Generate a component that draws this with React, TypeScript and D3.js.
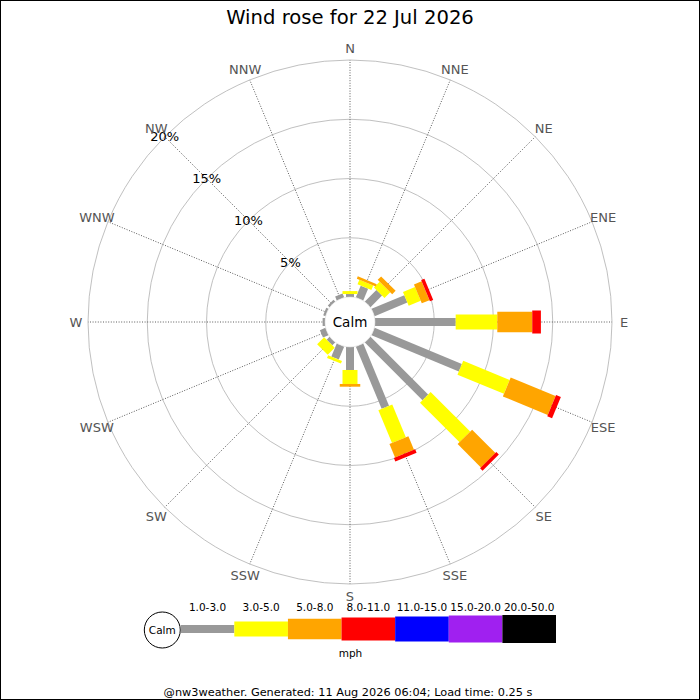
import React from "react";
import * as d3 from "d3";

const directions = ["N","NNE","NE","ENE","E","ESE","SE","SSE","S","SSW","SW","WSW","W","WNW","NW","NNW"];
const speedBins = ["1.0-3.0","3.0-5.0","5.0-8.0","8.0-11.0","11.0-15.0","15.0-20.0","20.0-50.0"];
const binColors = ["#999999","#ffff00","#ffa500","#ff0000","#0000ff","#a020f0","#000000"];
const binWidths = [8, 15, 20.5, 23, 25, 27, 28];

// percentage of time per direction for each speed bin
const bin1to3 = [0.25,1.07,1.38,2.99,6.81,7.97,6.88,5.68,1.94,1.18,0.34,0.5,0.2,0.2,0.2,0.35];
const bin3to5 = [0.25,0.42,0.68,1.10,3.51,4.24,4.72,3.0,1.18,0.25,0.84,0,0,0,0,0];
const bin5to8 = [0,0.21,0.41,0.70,2.95,4.10,2.78,1.23,0.23,0,0,0,0,0,0,0];
const bin8to11 = [0,0,0,0.30,0.73,0.44,0.30,0.32,0,0,0,0,0,0,0,0];
const bin11to15 = [0,0,0,0,0,0,0,0,0,0,0,0,0,0,0,0];
const bin15to20 = [0,0,0,0,0,0,0,0,0,0,0,0,0,0,0,0];
const bin20to50 = [0,0,0,0,0,0,0,0,0,0,0,0,0,0,0,0];
const seriesValues = [bin1to3, bin3to5, bin5to8, bin8to11, bin11to15, bin15to20, bin20to50];

const ringTicks = [5, 10, 15, 20];
const title = "Wind rose for 22 Jul 2026";
const footer = "@nw3weather. Generated: 11 Aug 2026 06:04; Load time: 0.25 s";
const unitLabel = "mph";

const W = 700, H = 700;
const cx = 350, cy = 322;
const calmR = 25;
const FONT = "DejaVu Sans, sans-serif";

export default function App() {
  const r = d3.scaleLinear().domain([0, 20]).range([calmR, 262]);
  const angle = d3.scaleLinear().domain([0, directions.length]).range([0, 360]);

  const stacks = d3.stack<number>()
    .keys(d3.range(seriesValues.length).map(String))
    .value((i, k) => seriesValues[+k][i])(d3.range(directions.length));

  const legendX = d3.scaleLinear().domain([0, speedBins.length]).range([180.7, 556]);
  const legendY = 629;

  const pt = (deg: number, rad: number) => {
    const a = (deg * Math.PI) / 180;
    return [cx + rad * Math.sin(a), cy - rad * Math.cos(a)];
  };

  return (
    <svg width={W} height={H} style={{ position: "absolute", left: 0, top: 0, fontFamily: FONT }}>
      <rect x={0} y={0} width={W} height={H} fill="#fff" />
      <text x={cx} y={24} textAnchor="middle" fontSize={19.6} fill="#000">{title}</text>

      {/* rings */}
      {ringTicks.map((t) => (
        <circle key={t} cx={cx} cy={cy} r={r(t)} fill="none" stroke="#b0b0b0" strokeWidth={0.8} />
      ))}
      {/* spokes */}
      {directions.map((d, i) => {
        const [x1, y1] = pt(angle(i), r(0));
        const [x2, y2] = pt(angle(i), r(20));
        return <line key={d} x1={x1} y1={y1} x2={x2} y2={y2} stroke="#333" strokeWidth={0.8} strokeDasharray="1,1.6" />;
      })}

      {/* bars */}
      <g transform={`translate(${cx},${cy})`}>
        {stacks.map((layer, k) =>
          layer.map((seg, i) => {
            const v = seg[1] - seg[0];
            if (v <= 0) return null;
            const w = binWidths[k];
            return (
              <rect key={`${k}-${i}`} x={r(seg[0])} y={-w / 2} width={r(seg[1]) - r(seg[0])} height={w}
                fill={binColors[k]} transform={`rotate(${angle(i) - 90})`} />
            );
          })
        )}
      </g>

      {/* calm circle */}
      <circle cx={cx} cy={cy} r={calmR} fill="#fff" stroke="#d8d8d8" strokeWidth={0.6} />
      <text x={cx} y={cy} textAnchor="middle" dominantBaseline="central" fontSize={13.5} fill="#000">Calm</text>

      {/* ring labels */}
      {ringTicks.map((t) => {
        const [x, y] = pt(315, r(t));
        return <text key={t} x={x} y={y} textAnchor="middle" dominantBaseline="central" fontSize={13} fill="#000">{t}%</text>;
      })}

      {/* direction labels */}
      {directions.map((d, i) => {
        const [x, y] = pt(angle(i), 274);
        return <text key={d} x={x} y={y + 0.5} textAnchor="middle" dominantBaseline="central" fontSize={13} fill="#555">{d}</text>;
      })}

      {/* legend */}
      <circle cx={162.3} cy={630} r={18} fill="#fff" stroke="#000" strokeWidth={1} />
      <text x={162.3} y={630} textAnchor="middle" dominantBaseline="central" fontSize={10.5} fill="#000">Calm</text>
      {speedBins.map((b, k) => {
        const x0 = legendX(k), x1 = legendX(k + 1);
        const h = binWidths[k];
        return (
          <g key={b}>
            <rect x={x0} y={legendY - h / 2} width={x1 - x0} height={h} fill={binColors[k]} />
            <text x={(x0 + x1) / 2} y={607} textAnchor="middle" dominantBaseline="central" fontSize={10.5} fill="#000">{b}</text>
          </g>
        );
      })}
      <text x={350.5} y={653} textAnchor="middle" dominantBaseline="central" fontSize={10.5} fill="#000">{unitLabel}</text>
      <text x={348} y={692} textAnchor="middle" dominantBaseline="central" fontSize={11.3} fill="#000">{footer}</text>

      <rect x={0.5} y={0.5} width={W - 1} height={H - 1} fill="none" stroke="#000" strokeWidth={1} />
    </svg>
  );
}
